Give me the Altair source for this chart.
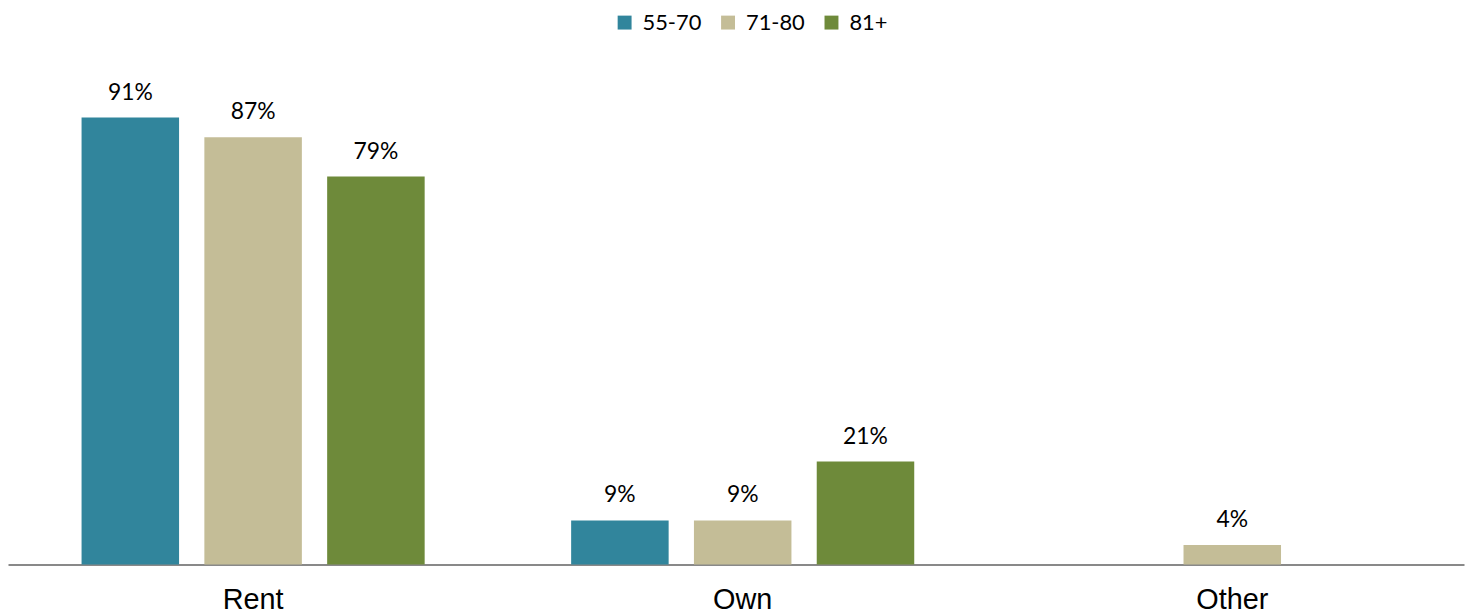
import altair as alt
import pandas as pd

categories = ["Rent", "Own", "Other"]
groups = ["55-70", "71-80", "81+"]
colors = ["#31859C", "#C4BD97", "#6E8A3A"]

cat_col = ["Rent", "Rent", "Rent", "Own", "Own", "Own", "Other"]
grp_col = ["55-70", "71-80", "81+", "55-70", "71-80", "81+", "71-80"]
values = [91, 87, 79, 9, 9, 21, 4]

df = pd.DataFrame({"cat": cat_col, "grp": grp_col, "val": values})
df["label"] = df["val"].astype(str) + "%"

x = alt.X("cat:N", sort=categories,
          scale=alt.Scale(domain=categories, paddingInner=0.2992, paddingOuter=0.1366,
                          align=0.55),
          axis=alt.Axis(title=None, labelAngle=0, ticks=False, labelFont="Liberation Sans",
                        labelFontSize=29, labelColor="#000000", labelPadding=21,
                        domainColor="#898989", domainWidth=2))
xo = alt.XOffset("grp:N", sort=groups,
                 scale=alt.Scale(domain=groups, paddingInner=0.206, paddingOuter=0))
y = alt.Y("val:Q", scale=alt.Scale(domain=[0, 100], nice=False), axis=None)

bars = alt.Chart(df).mark_bar().encode(
    x=x, xOffset=xo, y=y,
    color=alt.Color("grp:N", sort=groups,
                    scale=alt.Scale(domain=groups, range=colors),
                    legend=alt.Legend(title=None, orient="none", direction="horizontal",
                                      legendX=609, legendY=-62, symbolType="square",
                                      symbolSize=196, symbolStrokeWidth=0,
                                      labelFont="Lato", labelFontSize=22,
                                      labelColor="#000000", columnPadding=15,
                                      labelOffset=7)),
)

text = alt.Chart(df).mark_text(font="Lato", fontSize=23, color="#000000",
                               baseline="alphabetic", dy=-18).encode(
    x=x, xOffset=xo, y=y, text="label:N"
)

chart = (bars + text).properties(
    width=1464, height=494,
    autosize=alt.AutoSizeParams(type="none"),
    padding={"left": 0, "top": 64, "right": 1, "bottom": 48},
).configure_view(stroke=None)

chart.save("out.html", embed_options={"renderer": "svg", "actions": False})
